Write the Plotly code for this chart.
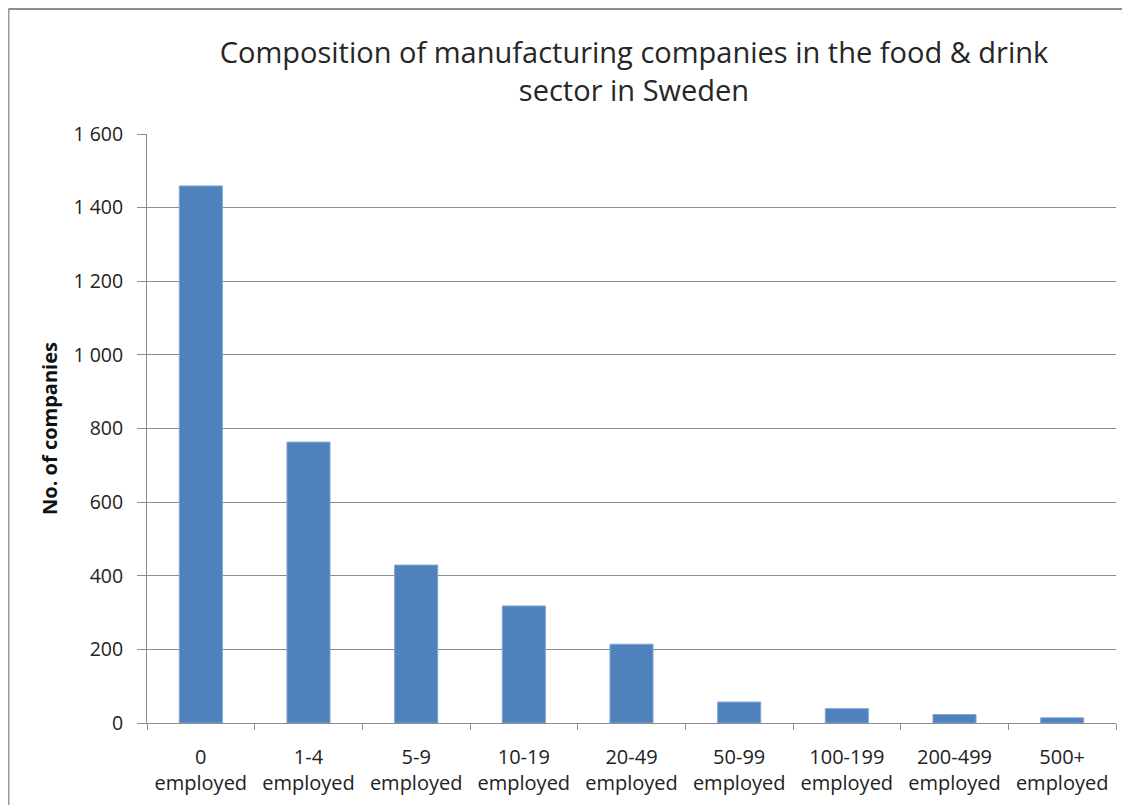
import plotly.graph_objects as go

categories = ["0<br>employed", "1-4<br>employed", "5-9<br>employed", "10-19<br>employed",
              "20-49<br>employed", "50-99<br>employed", "100-199<br>employed",
              "200-499<br>employed", "500+<br>employed"]
companies = [1459, 763, 429, 318, 214, 57, 39, 23, 14]
y_ticks = [0, 200, 400, 600, 800, 1000, 1200, 1400, 1600]

title_text = "Composition of manufacturing companies in the food & drink<br>sector in Sweden"
y_title = "No. of companies"

# page has an 8px body margin, so the figure is 8px smaller than the window
W, H = 1122, 797
L, T = 139, 126
R = W - 1108
B = H - 715
pw, ph = W - L - R, H - T - B

fig = go.Figure(go.Bar(
    x=categories, y=companies,
    marker=dict(color="#4F81BD", line=dict(color="#7FA6D6", width=1)),
    width=0.4,
))

grid = "#8C8C8C"
FONT = "Open Sans"
fig.update_layout(
    width=W, height=H,
    margin=dict(l=L, r=R, t=T, b=B),
    paper_bgcolor="white", plot_bgcolor="white",
    separators=". ",
    showlegend=False,
    font=dict(family=FONT, color="#222222"),
    title=dict(text=title_text, x=626 / W, xanchor="center",
               y=1 - 55 / H, yanchor="top",
               font=dict(family=FONT, size=29, color="#262626")),
    xaxis=dict(type="category", tickson="boundaries", ticks="outside", ticklen=6,
               tickcolor=grid, showline=True, linecolor=grid, linewidth=1,
               showgrid=False, tickfont=dict(size=20, color="#222222"),
               ticklabelstandoff=16, automargin=False, range=[-0.5, 8.5]),
    yaxis=dict(range=[0, 1600], tickvals=y_ticks, ticks="outside", ticklen=9,
               tickcolor=grid, showline=True, linecolor=grid, linewidth=1,
               showgrid=True, gridcolor=grid, gridwidth=1, zeroline=False,
               separatethousands=True, tickformat=",d",
               tickfont=dict(size=19.5, color="#222222"),
               ticklabelstandoff=10,
               title=dict(text="<b>" + y_title + "</b>",
                          font=dict(size=20, color="#111111"), standoff=10)),
)

# chart border (top and left visible)
x_left = (0.5 - L) / pw
y_top = 1 + (T - 0.5) / ph
fig.add_shape(type="line", xref="paper", yref="paper", x0=x_left, x1=(W - L + 5) / pw,
              y0=y_top, y1=y_top, line=dict(color="#8E8E8E", width=3))
fig.add_shape(type="line", xref="paper", yref="paper", x0=x_left, x1=x_left,
              y0=y_top, y1=-(B + 5) / ph, line=dict(color="#9A9A9A", width=2))

fig.write_html("out.html")
